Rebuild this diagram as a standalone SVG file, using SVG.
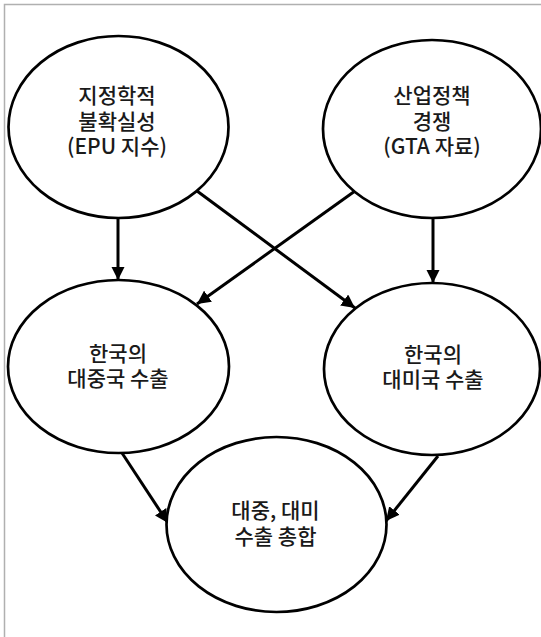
<svg xmlns="http://www.w3.org/2000/svg" width="541" height="637" viewBox="0 0 541 637">
<style>
.n ellipse{fill:#fff;stroke:#000;stroke-width:2.7}
.n text{font-family:"Noto Sans CJK KR","Noto Sans",sans-serif;font-size:21px;font-weight:500;fill:#1a1a1a;text-anchor:middle}
.e line{stroke:#000;stroke-width:3;marker-end:url(#ah)}
</style>
<defs>
<marker id="ah" viewBox="0 0 10 10" refX="10" refY="5" markerWidth="4.5" markerHeight="4.5" orient="auto" markerUnits="strokeWidth">
<path d="M0,0 L10,5 L0,10 z" fill="#000"/>
</marker>
</defs>
<rect x="0" y="0" width="541" height="637" fill="#fff"/>
<path d="M4.5,637 V4.5 H541" fill="none" stroke="#b0b0b0" stroke-width="1.5"/>
<g class="e">
<line x1="118" y1="218" x2="118" y2="280"/>
<line x1="433" y1="218" x2="433" y2="283"/>
<line x1="197" y1="191" x2="355" y2="308"/>
<line x1="355" y1="191" x2="197" y2="304"/>
<line x1="122" y1="453" x2="168" y2="523"/>
<line x1="438" y1="456" x2="386" y2="521"/>
</g>
<g class="n" id="epu">
<ellipse cx="118.5" cy="127" rx="110" ry="91"/>
<text x="117" y="103">지정학적</text>
<text x="117" y="128.5">불확실성</text>
<text x="117" y="154">(EPU 지수)</text>
</g>
<g class="n" id="gta">
<ellipse cx="432" cy="129" rx="109" ry="89"/>
<text x="432" y="103">산업정책</text>
<text x="432" y="128.5">경쟁</text>
<text x="432" y="154">(GTA 자료)</text>
</g>
<g class="n" id="china">
<ellipse cx="118.5" cy="366.5" rx="110.5" ry="86.5"/>
<text x="118" y="361">한국의</text>
<text x="118" y="386">대중국 수출</text>
</g>
<g class="n" id="us">
<ellipse cx="432" cy="369" rx="108" ry="86"/>
<text x="433" y="362">한국의</text>
<text x="433" y="387">대미국 수출</text>
</g>
<g class="n" id="total">
<ellipse cx="276.5" cy="524.5" rx="110" ry="87.5"/>
<text x="275.5" y="518">대중, 대미</text>
<text x="275.5" y="543.5">수출 총합</text>
</g>
</svg>
